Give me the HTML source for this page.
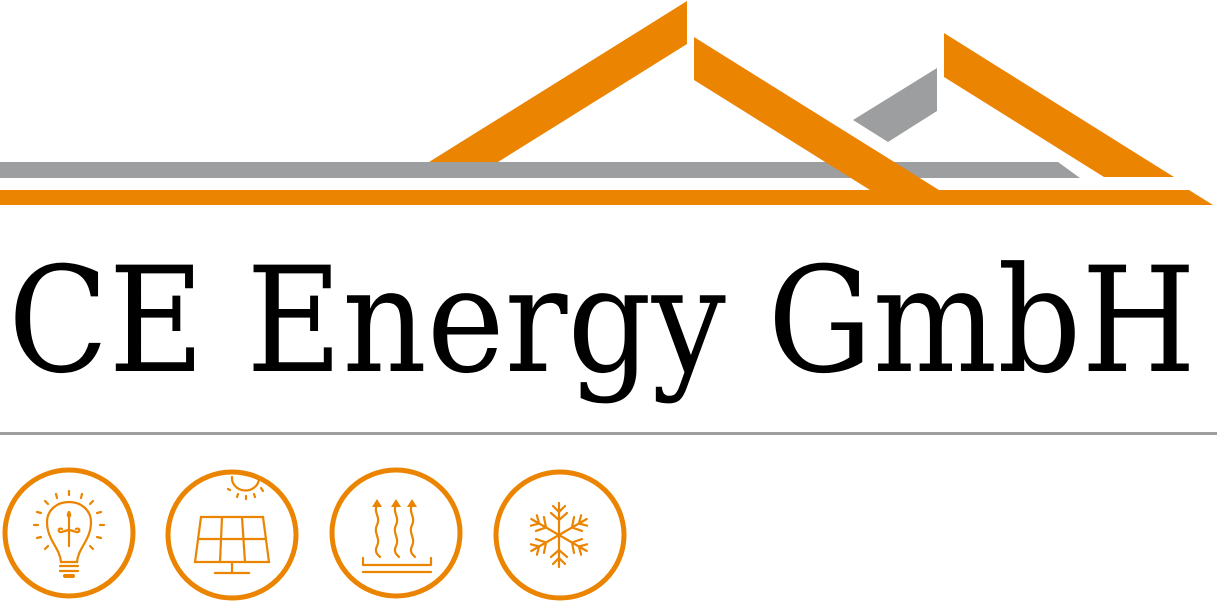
<!DOCTYPE html>
<html><head><meta charset="utf-8"><style>html,body{margin:0;padding:0;background:#fff;width:1217px;height:604px;overflow:hidden}</style></head>
<body>
<svg width="1217" height="604" viewBox="0 0 1217 604" xmlns="http://www.w3.org/2000/svg">
<polygon points="0,162 1058,162 1080,178 0,178" fill="#9d9e9f"/>
<polygon points="0,190 1189,190 1213,205 0,205" fill="#eb8400"/>
<polygon points="429,162 687,1 687,44 498,162" fill="#eb8400"/>
<polygon points="694,37 939,190 870,190 694,80" fill="#eb8400"/>
<polygon points="853,120 937,68 937,111 888,142" fill="#9d9e9f"/>
<polygon points="944,33 1174,177 1104,177 944,77" fill="#eb8400"/>
<text x="8" y="371" font-family="'DejaVu Serif', 'Liberation Serif', serif" font-size="146" textLength="1188" lengthAdjust="spacingAndGlyphs" fill="#000">CE Energy GmbH</text>
<rect x="0" y="432" width="1217" height="3" fill="#9d9e9f"/>
<g fill="none" stroke="#eb8400" stroke-width="5">
<ellipse cx="69" cy="533" rx="64" ry="63"/>
<ellipse cx="232" cy="535" rx="64" ry="63"/>
<ellipse cx="396" cy="533" rx="64" ry="63"/>
<ellipse cx="560" cy="535" rx="64" ry="63"/>
</g>
<g fill="none" stroke="#eb8400" stroke-width="2.2" stroke-linecap="round">
<path d="M61,562 C60,548 47,540 47,522 C47,510 57,502 69,502 C81,502 91,510 91,522 C91,540 78,548 77,562 Z"/>
<line x1="60" y1="566" x2="78" y2="566"/><line x1="60" y1="571" x2="78" y2="571"/>
<path d="M65,576 L73,576" stroke-width="4"/>
<line x1="69" y1="546" x2="69" y2="512"/>
<path d="M69,512 C65,518 73,518 69,512"/>
<path d="M62,529 C58,527 57,533 62,532 C64,531 69,530 69,530 C69,530 74,531 76,532 C81,533 80,527 76,529"/>
<line x1="69" y1="491" x2="69" y2="495"/><line x1="56" y1="494" x2="57" y2="498"/><line x1="82" y1="494" x2="81" y2="498"/>
<line x1="45" y1="501" x2="48" y2="504"/><line x1="93" y1="501" x2="90" y2="504"/>
<line x1="37" y1="512" x2="41" y2="513"/><line x1="101" y1="512" x2="97" y2="513"/>
<line x1="34" y1="525" x2="38" y2="525"/><line x1="104" y1="525" x2="100" y2="525"/>
<line x1="37" y1="538" x2="41" y2="537"/><line x1="101" y1="538" x2="97" y2="537"/>
<line x1="45" y1="549" x2="48" y2="546"/><line x1="93" y1="549" x2="90" y2="546"/>
<path d="M232,477 A13,12 0 0 0 259,479"/>
<line x1="228" y1="489" x2="230" y2="490"/><line x1="238" y1="494" x2="237" y2="497"/><line x1="246" y1="496" x2="246" y2="499"/><line x1="254" y1="494" x2="255" y2="497"/><line x1="261" y1="488" x2="263" y2="491"/>
<polygon points="201,517 263,517 269,562 195,562"/>
<line x1="199" y1="539" x2="265" y2="539"/>
<line x1="222" y1="517" x2="220" y2="562"/><line x1="242" y1="517" x2="245" y2="562"/>
<line x1="232" y1="562" x2="232" y2="573"/><line x1="215" y1="573" x2="249" y2="573"/>
<path d="M377,505 C373,512 381,517 377,525 C373,533 381,538 377,546 C374,552 378,555 380,557"/>
<path d="M396,505 C392,512 400,517 396,525 C392,533 400,538 396,546 C393,552 397,555 399,557"/>
<path d="M412,505 C408,512 416,517 412,525 C408,533 416,538 412,546 C409,552 413,555 415,557"/>
<line x1="363" y1="558" x2="363" y2="564"/><line x1="431" y1="558" x2="431" y2="564"/>
<line x1="363" y1="565" x2="431" y2="565"/><line x1="363" y1="572" x2="431" y2="572"/>
</g>
<g fill="#eb8400">
<polygon points="372,507 377,499 382,507"/><polygon points="391,507 396,499 401,507"/><polygon points="407,507 412,499 417,507"/>
</g>
<g stroke="#eb8400" stroke-width="2.2" fill="none" stroke-linecap="round">
<g id="arm">
<line x1="559" y1="535" x2="559" y2="503"/>
<line x1="559" y1="512" x2="553" y2="506"/><line x1="559" y1="512" x2="565" y2="506"/>
<line x1="559" y1="520" x2="551" y2="513"/><line x1="559" y1="520" x2="567" y2="513"/>
</g>
<use href="#arm" transform="rotate(60 559 535)"/>
<use href="#arm" transform="rotate(120 559 535)"/>
<use href="#arm" transform="rotate(180 559 535)"/>
<use href="#arm" transform="rotate(240 559 535)"/>
<use href="#arm" transform="rotate(300 559 535)"/>
</g>
</svg>
</body></html>
